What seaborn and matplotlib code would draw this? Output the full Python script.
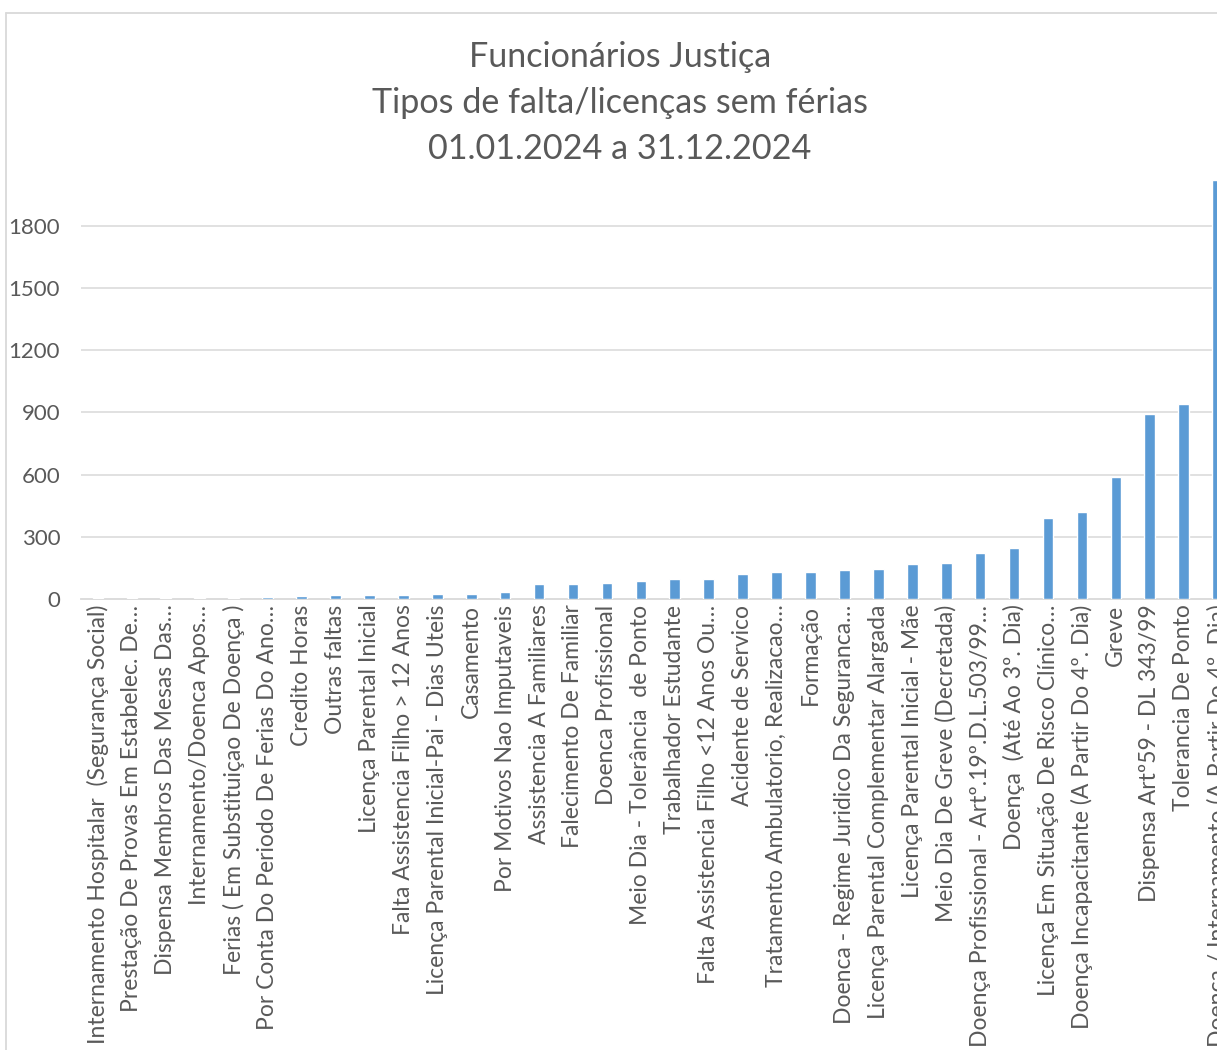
import matplotlib
matplotlib.use("Agg")
import matplotlib.pyplot as plt
from matplotlib.lines import Line2D
import pandas as pd
import seaborn as sns

# Absence / leave types and number of occurrences (2024)
categorias = [
    "Internamento Hospitalar  (Segurança Social)",
    "Prestação De Provas Em Estabelec. De…",
    "Dispensa Membros Das Mesas Das…",
    "Internamento/Doenca Apos…",
    "Ferias ( Em Substituiçao De Doença )",
    "Por Conta Do Periodo De Ferias Do Ano…",
    "Credito Horas",
    "Outras faltas",
    "Licença Parental Inicial",
    "Falta Assistencia Filho > 12 Anos",
    "Licença Parental Inicial-Pai - Dias Uteis",
    "Casamento",
    "Por Motivos Nao Imputaveis",
    "Assistencia A Familiares",
    "Falecimento De Familiar",
    "Doenca Profissional",
    "Meio Dia - Tolerância  de Ponto",
    "Trabalhador Estudante",
    "Falta Assistencia Filho <12 Anos Ou…",
    "Acidente de Servico",
    "Tratamento Ambulatorio, Realizacao…",
    "Formação",
    "Doenca - Regime Juridico Da Seguranca…",
    "Licença Parental Complementar Alargada",
    "Licença Parental Inicial - Mãe",
    "Meio Dia De Greve (Decretada)",
    "Doença Profissional - Artº.19º.D.L.503/99…",
    "Doença  (Até Ao 3º. Dia)",
    "Licença Em Situação De Risco Clínico…",
    "Doença Incapacitante (A Partir Do 4º. Dia)",
    "Greve",
    "Dispensa Artº59 - DL 343/99",
    "Tolerancia De Ponto",
    "Doença / Internamento (A Partir Do 4º. Dia)",
]

ocorrencias = [
    3, 3, 4, 4, 4, 8, 13, 18, 18, 21, 22, 26, 32, 72, 72, 75, 89,
    95, 98, 121, 129, 132, 138, 143, 169, 175, 220, 246, 392, 421,
    588, 894, 940, 2020,
]

y_ticks = [0, 300, 600, 900, 1200, 1500, 1800]

titulo = ["Funcionários Justiça",
          "Tipos de falta/licenças sem férias",
          "01.01.2024 a 31.12.2024"]

df = pd.DataFrame({"tipo": categorias, "n": ocorrencias})

sns.set_theme(style="white")
plt.rcParams["font.family"] = ["Lato", "DejaVu Sans"]

W, H = 1217, 1050
fig = plt.figure(figsize=(W / 100, H / 100), dpi=100)
fig.patch.set_facecolor("white")

# plot area (right side runs past the canvas edge)
left, bottom = 81, 451
width, height = 34 * 33.93, 420
ax = fig.add_axes([left / W, bottom / H, width / W, height / H])

sns.barplot(data=df, x="tipo", y="n", color="#5B9BD5", saturation=1,
            width=0.315, ax=ax, zorder=5)

ax.set_ylim(0, 2025)
ax.set_xlim(-0.5, len(categorias) - 0.5)
ax.set_yticks(y_ticks)
ax.set_yticklabels([str(t) for t in y_ticks])
ax.set_xlabel("")
ax.set_ylabel("")

grid_c = "#D9D9D9"
ax.grid(False)
for t in y_ticks[1:]:
    ax.axhline(t, color=grid_c, lw=1.1, zorder=1)

for s in ["top", "right", "left"]:
    ax.spines[s].set_visible(False)
ax.spines["bottom"].set_color(grid_c)
ax.spines["bottom"].set_linewidth(1.3)
ax.spines["bottom"].set_zorder(2)

text_c = "#595959"
ax.tick_params(axis="y", length=0, pad=15, labelsize=16, labelcolor=text_c)
ax.tick_params(axis="x", length=0, pad=4, labelsize=16.5, labelcolor=text_c)
plt.setp(ax.get_xticklabels(), rotation=90, ha="center", va="top")

# title block
for i, line in enumerate(titulo):
    fig.text(620 / W, 1 - (57 + 46 * i) / H, line, ha="center", va="center",
             fontsize=24.6, color=text_c)

# chart-area frame
fig.add_artist(Line2D([5.5 / W, 5.5 / W], [0, 1 - 12.5 / H],
                      transform=fig.transFigure, color=grid_c, lw=1.3))
fig.add_artist(Line2D([5.5 / W, 1], [1 - 12.5 / H, 1 - 12.5 / H],
                      transform=fig.transFigure, color=grid_c, lw=1.3))

fig.savefig("out.png", dpi=100, facecolor="white")
